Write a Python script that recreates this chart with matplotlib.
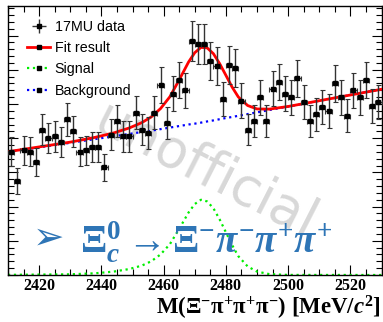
import numpy as np
import matplotlib.pyplot as plt
from matplotlib.lines import Line2D
from matplotlib.ticker import MultipleLocator

plt.rcParams['mathtext.fontset'] = 'custom'
plt.rcParams['mathtext.rm'] = 'Liberation Serif:bold'
plt.rcParams['mathtext.it'] = 'Liberation Serif:bold:italic'
plt.rcParams['mathtext.bf'] = 'Liberation Serif:bold'

# data: 2 MeV bins from 2410 to 2530
bin_centers = np.arange(2411, 2530, 2)
counts = [72, 55, 73, 72, 66, 85, 80, 81, 78, 91,
          84, 72, 73, 75, 75, 63, 82, 90, 81, 81,
          95, 85, 83, 95, 111, 89, 106, 114, 108, 137,
          135, 135, 125, 122, 103, 123, 121, 102, 85, 90,
          104, 90, 109, 113, 106, 104, 115, 101, 90, 94,
          98, 96, 112, 104, 93, 108, 104, 114, 99, 101]

# fit components
curve_x = [2410, 2430, 2438, 2444, 2449, 2453, 2456, 2459, 2462, 2465, 2468, 2470,
           2472, 2474, 2476, 2478, 2480, 2482, 2484, 2487, 2490, 2494, 2500, 2530]
signal = [0.1, 0.4, 1.0, 2.0, 3.5, 5.5, 8.0, 12.0, 18.0, 27.0, 36.5, 41.5,
          44.0, 43.0, 39.0, 32.5, 25.0, 17.5, 11.0, 5.0, 2.0, 0.5, 0.05, 0.0]
background = [72.0, 77.3, 79.5, 81.1, 82.5, 83.6, 84.4, 85.3, 86.2, 87.1, 88.0, 88.5,
              89.1, 89.8, 90.4, 91.1, 91.8, 92.4, 93.1, 94.1, 95.1, 96.5, 98.5, 108.6]
fit_total = np.array(background) + np.array(signal)

W, H = 383, 322
fig = plt.figure(figsize=(W / 100, H / 100), dpi=100)
ax = fig.add_axes([8 / W, 1 - 275 / H, 373.5 / W, 269 / H])

# watermark
ax.text(0.53, 0.385, 'unofficial', transform=ax.transAxes, rotation=-27,
        fontsize=38, color='#d8d8d8', family='DejaVu Sans',
        ha='center', va='center', zorder=0)

ax.plot(curve_x, background, color='#0000ff', ls=':', lw=1.6, zorder=2)
ax.plot(curve_x, signal, color='#00ee00', ls=':', lw=1.6, zorder=2)
ax.plot(curve_x, fit_total, color='#ff0000', lw=2, zorder=3)
ax.errorbar(bin_centers, counts, xerr=1, yerr=np.sqrt(counts), fmt='s', ms=2.8,
            color='black', ecolor='#333333', elinewidth=1, capsize=1.8,
            capthick=0.8, zorder=4)

ax.set_xlim(2410, 2530)
ax.set_ylim(0, 157.3)
ax.xaxis.set_major_locator(MultipleLocator(20))
ax.xaxis.set_minor_locator(MultipleLocator(5))
ax.yaxis.set_major_locator(MultipleLocator(20))
ax.yaxis.set_minor_locator(MultipleLocator(4))
ax.tick_params(which='both', direction='in', top=True, right=True, width=0.8)
ax.tick_params(which='major', length=7)
ax.tick_params(which='minor', length=4)
ax.tick_params(axis='x', pad=2.5, labelsize=11.5)
ax.tick_params(axis='y', labelleft=False)
for lab in ax.get_xticklabels():
    lab.set_family('Liberation Serif')
    lab.set_weight('bold')
for s in ax.spines.values():
    s.set_linewidth(1)

# legend
h_data = ax.errorbar([], [], xerr=[], yerr=[], fmt='s', ms=2.8, color='black',
                     ecolor='#333333', elinewidth=1, capsize=1.8)
h_fit = Line2D([], [], color='#ff0000', lw=2, marker='s', ms=2.5, mfc='black', mec='black')
h_sig = Line2D([], [], color='#00ee00', lw=1.6, ls=':', marker='s', ms=2.5, mfc='black', mec='black')
h_bkg = Line2D([], [], color='#0000ff', lw=1.6, ls=':', marker='s', ms=2.5, mfc='black', mec='black')
ax.legend([h_data, h_fit, h_sig, h_bkg], ['17MU data', 'Fit result', 'Signal', 'Background'],
          loc='upper left', bbox_to_anchor=(0.025, 0.985), frameon=False,
          prop={'family': 'Liberation Sans', 'size': 10.3},
          handlelength=1.6, handletextpad=0.3, labelspacing=0.5, borderpad=0.2)

blue = '#2e75b6'
fig.text(49 / W, 1 - 239 / H, '\u27a2', ha='center', va='center', fontsize=27,
         color=blue, family='DejaVu Sans', weight='bold')
fig.text(80 / W, 1 - 252 / H,
         r'$\Xi_{c}^{0}\rightarrow\Xi^{-}\pi^{-}\pi^{+}\pi^{+}$',
         ha='left', va='baseline', fontsize=28, color=blue)

fig.text(381 / W, 1 - 321.5 / H,
         r'M($\mathrm{\Xi^{-}\pi^{+}\pi^{+}\pi^{-}}$) [MeV/$c^{2}$]',
         ha='right', va='bottom', fontsize=16.5, family='Liberation Serif',
         weight='bold')

fig.savefig('out.png', dpi=100)
